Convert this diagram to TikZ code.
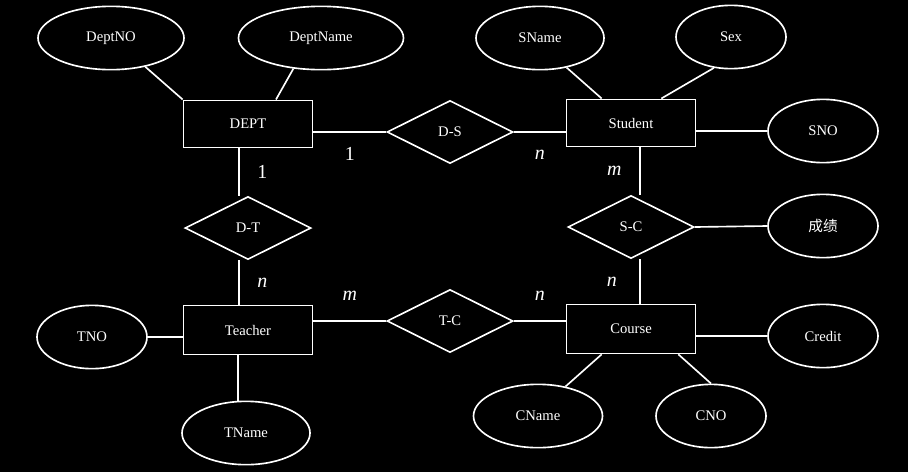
\documentclass[tikz,border=0pt]{standalone}
\usepackage{fontspec}
\setmainfont{Liberation Serif}
\newfontfamily\cjkfont{Noto Sans CJK SC}
\usetikzlibrary{shapes.geometric}

\begin{document}
\begin{tikzpicture}[
    x=0.03cm, y=-0.03cm,
    entity/.style={
        rectangle, draw=white, fill=black,
        line width=1.4pt,
        minimum width=3.87cm,
        minimum height=1.42cm,
        text=white,
        font=\fontsize{12.5}{14}\selectfont
    },
    attr/.style={
        ellipse, draw=white, fill=black,
        line width=1.4pt, inner sep=0pt,
        minimum width=3.3cm,
        minimum height=1.9cm,
        text=white,
        font=\fontsize{12.5}{14}\selectfont
    },
    rel/.style={
        diamond, draw=white, fill=black,
        line width=1.4pt, inner sep=0pt,
        minimum width=3.78cm,
        minimum height=1.89cm,
        text=white,
        font=\fontsize{12.5}{14}\selectfont
    },
    link/.style={draw=white, line width=1.4pt}, % plain connector
    card/.style={text=white, inner sep=0pt, font=\fontsize{17}{20}\selectfont}
]

% --- background, same size as the page ---
\fill[black] (0,0) rectangle (908,472);

% --- ENTITIES ---
\node[entity] (dept) at (248,124) {DEPT};
\node[entity] (student) at (631,123) {Student};
\node[entity, minimum height=1.47cm] (teacher) at (248,330) {Teacher};
\node[entity, minimum height=1.47cm] (course) at (631,329) {Course};

% --- RELATIONSHIPS ---
\node[rel] (ds) at (450,132) {D-S};
\node[rel] (dt) at (248,228) {D-T};
\node[rel] (sc) at (631,227) {S-C};
\node[rel] (tc) at (450,321) {T-C};

% --- ATTRIBUTES ---
\node[attr, minimum width=4.38cm] (deptno) at (111,38) {DeptNO};
\node[attr, minimum width=4.95cm] (deptname) at (321,38) {DeptName};
\node[attr, minimum width=3.84cm] (sname) at (540,38) {SName};
\node[attr] (sex) at (731,37) {Sex};
\node[attr] (sno) at (823,131) {SNO};
\node[attr] (score) at (823,226) {\cjkfont 成绩};
\node[attr] (tno) at (92,337) {TNO};
\node[attr, minimum width=3.84cm] (tname) at (246,433) {TName};
\node[attr] (credit) at (823,336) {Credit};
\node[attr, minimum width=3.87cm] (cname) at (538,416) {CName};
\node[attr] (cno) at (711,416) {CNO};

% --- CONNECTORS ---
% 1. DEPT -> D-S -> Student
\draw[link] (ds.west -| dept.east) -- node[card, below=12pt]{1} (ds.west);
\draw[link] (ds.east) -- node[card, below=15pt]{\textit{n}} (ds.east -| student.west);

% 2. Teacher -> T-C -> Course
\draw[link] (tc.west -| teacher.east) -- node[card, above=17pt]{\textit{m}} (tc.west);
\draw[link] (tc.east) -- node[card, above=17pt]{\textit{n}} (tc.east -| course.west);

% 3. DEPT -> D-T -> Teacher (going down)
\draw[link] ([xshift=-0.27cm]dept.south) -- node[card, right=15pt]{1} ([xshift=-0.27cm]dept.south |- dt.north);
\draw[link] ([xshift=-0.27cm]dt.south) -- node[card, right=15pt]{\textit{n}} ([xshift=-0.27cm]dt.south |- teacher.north);

% 4. Student -> S-C -> Course (going down)
\draw[link] ([xshift=0.27cm]student.south) -- node[card, left=15pt]{\textit{m}} ([xshift=0.27cm]student.south |- sc.north);
\draw[link] ([xshift=0.27cm]sc.south) -- node[card, left=19pt]{\textit{n}} ([xshift=0.27cm]sc.south |- course.north);

% 5. attributes
\draw[link] (dept.north west) -- (deptno.320);
\draw[link] ([xshift=0.84cm]dept.north) -- (deptname.228);
\draw[link] ([xshift=1.08cm]student.north west) -- (sname.312);
\draw[link] ([xshift=-1.05cm]student.north east) -- (sex.241);
\draw[link] (sno.west -| student.east) -- (sno.west);
\draw[link] (sc.east) -- (score.west);
\draw[link] (tno.east) -- (tno.east -| teacher.west);
\draw[link] ([xshift=-0.3cm]teacher.south) -- ([xshift=-0.3cm]teacher.south |- tname.north);
\draw[link] (credit.west -| course.east) -- (credit.west);
\draw[link] ([xshift=1.08cm]course.south west) -- (cname.47);
\draw[link] ([xshift=-0.54cm]course.south east) -- (cno.north);

\end{tikzpicture}
\end{document}
